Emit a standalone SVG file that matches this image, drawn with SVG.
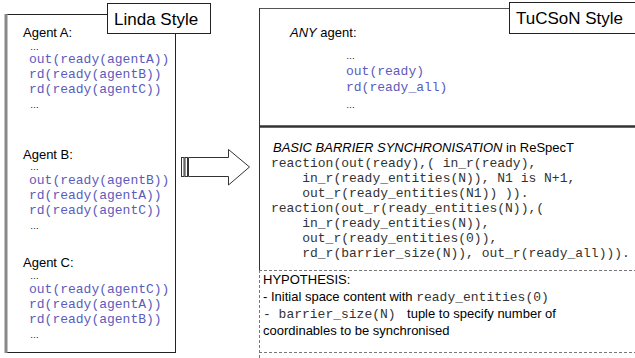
<svg xmlns="http://www.w3.org/2000/svg" width="635" height="358" viewBox="0 0 635 358">
<style>
.t{font-family:"Liberation Sans",Arial,sans-serif;font-size:13px;fill:#000}
.lbl{font-family:"Liberation Sans",Arial,sans-serif;font-size:17px;fill:#000}
.c{font-family:"Liberation Mono","Courier New",monospace;font-size:13px;fill:#5b5bbd}
.k{font-family:"Liberation Mono","Courier New",monospace;font-size:13px;fill:#333}
.d{font-family:"Liberation Sans",Arial,sans-serif;font-size:9px;fill:#000}
.box{fill:#fff;stroke:#222;stroke-width:1}
.dash{stroke:#777;stroke-width:1;stroke-dasharray:3,2;fill:none}
</style>
<g id="linda">
<rect x="5.5" y="14.5" width="170" height="338" class="box"/>
<line x1="6" y1="14" x2="6" y2="353" stroke="#888" stroke-width="3"/>
<rect x="107.5" y="3.5" width="103" height="30" class="box"/>
<text x="114" y="25" class="lbl">Linda Style</text>
<text x="23" y="37" class="t">Agent A:</text>
<text x="30" y="50" class="d">…</text>
<text x="29" y="63" class="c">out(ready(agentA))</text>
<text x="29" y="78" class="c">rd(ready(agentB))</text>
<text x="29" y="93" class="c">rd(ready(agentC))</text>
<text x="30" y="108" class="d">…</text>
<text x="23" y="159" class="t">Agent B:</text>
<text x="30" y="170" class="d">…</text>
<text x="29" y="184" class="c">out(ready(agentB))</text>
<text x="29" y="199" class="c">rd(ready(agentA))</text>
<text x="29" y="214" class="c">rd(ready(agentC))</text>
<text x="30" y="229" class="d">…</text>
<text x="23" y="267" class="t">Agent C:</text>
<text x="30" y="279" class="d">…</text>
<text x="29" y="293" class="c">out(ready(agentC))</text>
<text x="29" y="308" class="c">rd(ready(agentA))</text>
<text x="29" y="323" class="c">rd(ready(agentB))</text>
<text x="30" y="338" class="d">…</text>
</g>
<g id="connectors">
<rect x="181.5" y="157.5" width="2.5" height="19" fill="#fff" stroke="#333"/>
<rect x="185" y="157.5" width="2.5" height="19" fill="#fff" stroke="#333"/>
<polygon points="188.5,157.5 228.5,157.5 228.5,149.5 249.5,167 228.5,185 228.5,176.5 188.5,176.5" fill="#fff" stroke="#333"/>
</g>
<g id="tucson">
<line x1="259" y1="8.5" x2="635" y2="8.5" stroke="#555" stroke-width="1.2"/>
<line x1="259.5" y1="8" x2="259.5" y2="270" stroke="#333"/>
<line x1="259.5" y1="270" x2="259.5" y2="358" class="dash"/>
<rect x="509.5" y="2.5" width="130" height="31" class="box"/>
<text x="516" y="24" class="lbl">TuCSoN Style</text>
<text x="290" y="37" class="t"><tspan font-style="italic">ANY</tspan> agent:</text>
<text x="346" y="59" class="d">…</text>
<text x="346" y="75" class="c">out(ready)</text>
<text x="346" y="91" class="c">rd(ready_all)</text>
<text x="346" y="108" class="d">…</text>
<line x1="259" y1="126.5" x2="635" y2="126.5" stroke="#333" stroke-width="2.5"/>
<text x="273" y="152" class="t"><tspan font-style="italic">BASIC BARRIER SYNCHRONISATION</tspan> in ReSpecT</text>
<text x="271" y="167" class="k" font-size="11.5" xml:space="preserve">reaction(out(ready),( in_r(ready),</text>
<text x="271" y="182" class="k" font-size="11.5" xml:space="preserve">    in_r(ready_entities(N)), N1 is N+1,</text>
<text x="271" y="197" class="k" font-size="11.5" xml:space="preserve">    out_r(ready_entities(N1)) )).</text>
<text x="271" y="212" class="k" font-size="11.5" xml:space="preserve">reaction(out_r(ready_entities(N)),(</text>
<text x="271" y="227" class="k" font-size="11.5" xml:space="preserve">    in_r(ready_entities(N)),</text>
<text x="271" y="242" class="k" font-size="11.5" xml:space="preserve">    out_r(ready_entities(0)),</text>
<text x="271" y="257" class="k" font-size="11.5" xml:space="preserve">    rd_r(barrier_size(N)), out_r(ready_all))).</text>
<line x1="259" y1="270.5" x2="635" y2="270.5" class="dash"/>
<text x="263" y="284" class="t">HYPOTHESIS:</text>
<text x="263" y="301" class="t">- Initial space content with <tspan class="k" font-size="12.5">ready_entities(0)</tspan></text>
<text x="263" y="318" class="t"><tspan class="k" font-size="12.5" xml:space="preserve">- barrier_size(N) </tspan> tuple to specify number of</text>
<text x="263" y="335" class="t">coordinables to be synchronised</text>
<line x1="259" y1="352.5" x2="635" y2="352.5" class="dash"/>
</g>
</svg>
